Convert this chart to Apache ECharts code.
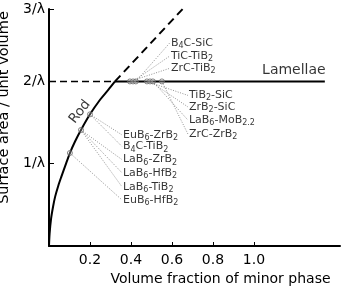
<!DOCTYPE html>
<html>
<head>
<meta charset="utf-8">
<script src="https://cdn.jsdelivr.net/npm/echarts@6/dist/echarts.min.js"></script>
<style>
  html, body { margin: 0; padding: 0; background: #fff; }
  #chart { width: 342px; height: 291px; }
</style>
</head>
<body>
<div id="chart"></div>
<script>
// x = volume fraction of minor phase, y = surface area / unit volume (in 1/λ)
const xTicks = [0.2, 0.4, 0.6, 0.8, 1.0]
const yTicks = [1, 2, 2.88]
const yTickLabels = ['1/λ', '2/λ', '3/λ']

const rodCurve = [
  [0, 0], [0.003, 0.15], [0.01, 0.33], [0.02, 0.48], [0.03, 0.6],
  [0.045, 0.73], [0.06, 0.84], [0.08, 0.98], [0.102, 1.13], [0.127, 1.27],
  [0.156, 1.41], [0.2, 1.6], [0.25, 1.78], [0.29, 1.9], [0.322, 2.0]
]
const rodExtension = [[0.322, 2.0], [0.652, 2.88]]
const lamellaeDashed = [[0, 2], [0.322, 2]]
const lamellaeSolid = [[0.322, 2], [1.346, 2]]

// measured composites
const rodPoints = [[0.102, 1.13], [0.156, 1.41], [0.2, 1.6]]
const lamellaePoints = [0.395, 0.41, 0.424, 0.478, 0.493, 0.507, 0.551]

const upperNames = ['B_{4}C-SiC', 'TiC-TiB_{2}', 'ZrC-TiB_{2}']
const upperFrom = [0.424, 0.41, 0.395]
const upperAt = [[0.59, 2.47], [0.59, 2.31], [0.59, 2.16]]

const lowerNames = ['TiB_{2}-SiC', 'ZrB_{2}-SiC', 'LaB_{6}-MoB_{2.2}', 'ZrC-ZrB_{2}']
const lowerFrom = [0.478, 0.493, 0.507, 0.551]
const lowerAt = [[0.678, 1.83], [0.678, 1.69], [0.678, 1.53], [0.678, 1.36]]

const rodNames = ['EuB_{6}-ZrB_{2}', 'B_{4}C-TiB_{2}', 'LaB_{6}-ZrB_{2}', 'LaB_{6}-HfB_{2}', 'LaB_{6}-TiB_{2}', 'EuB_{6}-HfB_{2}']
const rodFrom = [2, 2, 1, 1, 1, 0] // index into rodPoints
const rodAt = [[0.356, 1.35], [0.356, 1.21], [0.356, 1.05], [0.356, 0.89], [0.356, 0.72], [0.356, 0.56]]

const FONT = 'DejaVu Sans'

function richText (s) {
  return s.split(/(_\{[^}]*\})/).filter(Boolean).map(p =>
    p.startsWith('_{') ? '{s|' + p.slice(2, -1) + '}' : '{n|' + p + '}'
  ).join('')
}

let leaders = []
let labels = []
upperNames.forEach((n, i) => {
  leaders.push({ coords: [[upperFrom[i], 2], upperAt[i]] })
  labels.push({ value: upperAt[i], name: n })
})
lowerNames.forEach((n, i) => {
  leaders.push({ coords: [[lowerFrom[i], 2], lowerAt[i]] })
  labels.push({ value: lowerAt[i], name: n })
})
rodNames.forEach((n, i) => {
  leaders.push({ coords: [rodPoints[rodFrom[i]], rodAt[i]] })
  labels.push({ value: rodAt[i], name: n })
})

const chart = echarts.init(document.getElementById('chart'))

const option = {
  animation: false,
  grid: { left: 49, right: 2, top: 9, bottom: 45, containLabel: false, outerBoundsMode: 'none' },
  xAxis: {
    type: 'value',
    min: 0,
    max: 1.42,
    name: 'Volume fraction of minor phase',
    nameLocation: 'middle',
    nameGap: 26,
    nameTextStyle: { fontFamily: FONT, fontSize: 14, color: '#000', padding: [0, 0, 0, 52] },
    axisLine: { lineStyle: { color: '#000', width: 2 } },
    axisTick: { inside: true, length: 4, customValues: xTicks, lineStyle: { color: '#000', width: 1 } },
    axisLabel: {
      customValues: xTicks,
      formatter: v => v.toFixed(1),
      fontFamily: FONT, fontSize: 14, color: '#000', margin: 7
    },
    splitLine: { show: false }
  },
  yAxis: {
    type: 'value',
    min: 0,
    max: 2.88,
    name: 'Surface area / unit volume',
    nameLocation: 'middle',
    nameGap: 30,
    nameTextStyle: { fontFamily: FONT, fontSize: 14.5, color: '#000', padding: [0, 0, 0, 40] },
    axisLine: { lineStyle: { color: '#000', width: 2 } },
    axisTick: { inside: true, length: 5, customValues: yTicks, lineStyle: { color: '#000', width: 1 } },
    axisLabel: {
      customValues: yTicks,
      formatter: v => yTickLabels[yTicks.indexOf(v)] || '',
      fontFamily: FONT, fontSize: 14, color: '#000', margin: 4
    },
    splitLine: { show: false }
  },
  series: [
    {
      type: 'lines',
      coordinateSystem: 'cartesian2d',
      data: leaders,
      silent: true,
      lineStyle: { color: '#777', width: 0.8, type: [1, 1.5], opacity: 1 },
      z: 1
    },
    {
      type: 'line',
      data: rodCurve,
      smooth: 0.3,
      showSymbol: false,
      lineStyle: { color: '#000', width: 2 },
      z: 3
    },
    {
      type: 'line',
      data: rodExtension,
      showSymbol: false,
      lineStyle: { color: '#000', width: 2, type: [8, 5] },
      z: 3
    },
    {
      type: 'line',
      data: lamellaeDashed,
      showSymbol: false,
      lineStyle: { color: '#000', width: 1.5, type: [7, 4] },
      z: 3
    },
    {
      type: 'line',
      data: lamellaeSolid,
      showSymbol: false,
      lineStyle: { color: '#000', width: 2 },
      z: 3
    },
    {
      type: 'scatter',
      data: rodPoints.concat(lamellaePoints.map(x => [x, 2])),
      symbol: 'circle',
      symbolSize: 5,
      itemStyle: { color: 'rgba(255,255,255,0.3)', borderColor: '#666', borderWidth: 1 },
      z: 4
    },
    {
      type: 'scatter',
      data: labels,
      symbolSize: 0,
      silent: true,
      label: {
        show: true,
        position: 'right',
        distance: 1,
        formatter: p => richText(p.name),
        rich: {
          n: { fontFamily: FONT, fontSize: 11, color: '#000', lineHeight: 14 },
          s: { fontFamily: FONT, fontSize: 8, color: '#000', padding: [6, 0, 0, 0] }
        }
      },
      z: 5
    },
    {
      type: 'scatter',
      data: [
        { value: [0.151, 1.63], name: 'Rod', label: { rotate: 52, fontSize: 13.5 } },
        { value: [1.195, 2.14], name: 'Lamellae' }
      ],
      symbolSize: 0,
      silent: true,
      label: {
        show: true,
        position: 'inside',
        formatter: p => p.name,
        fontFamily: FONT,
        fontSize: 14,
        color: '#000'
      },
      z: 5
    }
  ]
}

chart.setOption(option)
</script>
</body>
</html>
